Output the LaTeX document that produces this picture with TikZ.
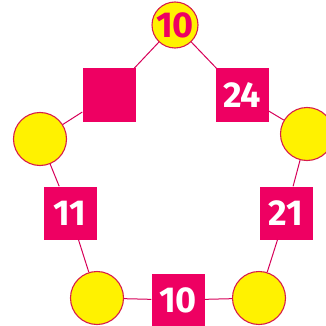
\documentclass[tikz,border=0pt]{standalone}
\usepackage{fontspec}
\setmainfont{Fira Sans}
\usetikzlibrary{positioning}
\definecolor{magentared}{RGB}{238,0,98}
\definecolor{ringred}{RGB}{215,30,75}

\begin{document}
\begin{tikzpicture}[
    x=1pt, y=-1pt,
    circ/.style={circle, draw=ringred, line width=1.1pt, fill=yellow, minimum size=53pt, inner sep=0pt},
    sq/.style={rectangle, fill=magentared, minimum size=53pt, inner sep=0pt, text=white, font=\fontsize{36}{36}\selectfont\bfseries},
    link/.style={draw=magentared!90!black, line width=1pt}
]
    \useasboundingbox (0,0) rectangle (326,326);

    \node[circ, minimum size=46pt, text=magentared, font=\fontsize{36}{36}\selectfont\bfseries] (top) at (175,25) {10};
    \node[circ] (left) at (40,139) {};
    \node[circ] (right) at (307,134) {};
    \node[circ] (botleft) at (97,298) {};
    \node[circ] (botright) at (259,298) {};

    \node[sq] (sqtl) at (109,95) {};
    \node[sq] (sqtr) at (242,95) {24};
    \node[sq] (sql) at (70,213) {11};
    \node[sq] (sqr) at (286,213) {21};
    \node[sq] (sqb) at (178,300) {10};

    \draw[link] (top) -- (sqtl);
    \draw[link] (sqtl) -- (left);
    \draw[link] (left) -- (sql);
    \draw[link] (sql) -- (botleft);
    \draw[link] (botleft) -- (sqb);
    \draw[link] (sqb) -- (botright);
    \draw[link] (botright) -- (sqr);
    \draw[link] (sqr) -- (right);
    \draw[link] (right) -- (sqtr);
    \draw[link] (sqtr) -- (top);
\end{tikzpicture}
\end{document}
